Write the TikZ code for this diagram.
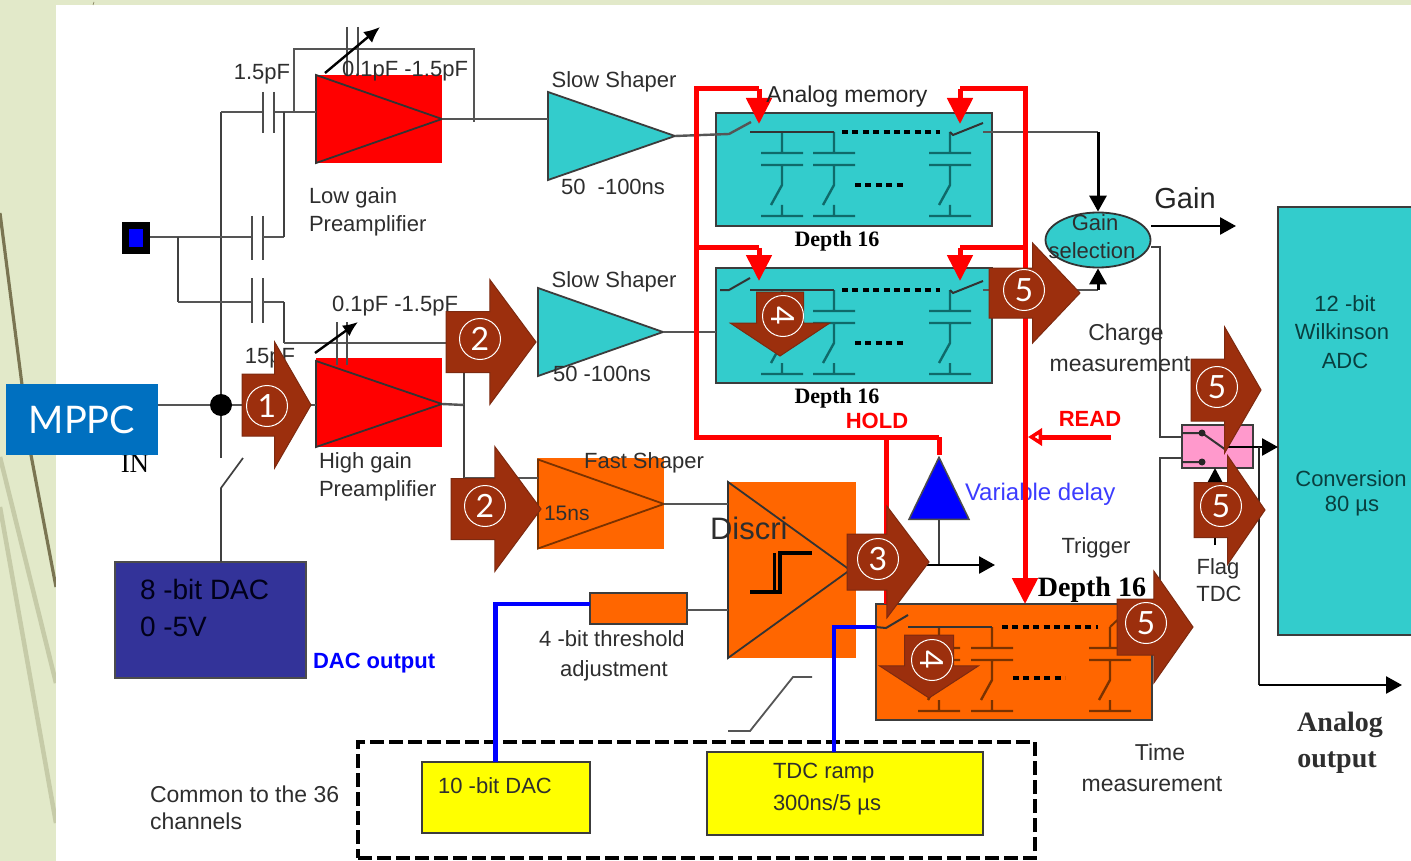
\documentclass[tikz,border=0pt]{standalone}
\usepackage{fontspec}
\setmainfont{Liberation Sans}
\newfontfamily\timesfont{Liberation Serif}
\newfontfamily\slidefont{Lato}
\usetikzlibrary{arrows.meta,positioning,shapes.geometric,shapes.arrows}
\definecolor{Sage}{HTML}{E2E9C9}
\definecolor{SagePale}{HTML}{C6CBA8}
\definecolor{Olive}{HTML}{7A7552}
\definecolor{Ink}{HTML}{2E2E2E}
\definecolor{WireGray}{HTML}{555555}
\definecolor{TealFill}{HTML}{33CCCC}
\definecolor{TealDark}{HTML}{0F6A6A}
\definecolor{Edge}{HTML}{3C3C3C}
\definecolor{OrangeFill}{HTML}{FF6600}
\definecolor{OrangeDark}{HTML}{7A3200}
\definecolor{PinkFill}{HTML}{FF99CC}
\definecolor{NavyFill}{HTML}{333399}
\definecolor{YellowFill}{HTML}{FFFF00}
\definecolor{PureRed}{HTML}{FF0000}
\definecolor{PureBlue}{HTML}{0000FF}
\definecolor{SlideBlue}{HTML}{0070C0}
\definecolor{Rust}{HTML}{9C2F0D}
\definecolor{RustDark}{HTML}{7D2A10}
\definecolor{DelayText}{HTML}{3C3CFF}
\newcommand{\fs}[1]{\fontsize{#1}{#1}\selectfont}
\newcommand{\memcell}[3]{%
\draw[draw=#3,line width=2.4pt](#1,#2)--(#1,#2+21)(#1-21,#2+21)--(#1+21,#2+21)(#1-21,#2+33)--(#1+21,#2+33)(#1,#2+33)--(#1,#2+53)--(#1-11,#2+73)(#1,#2+73)--(#1,#2+84)(#1-21,#2+84)--(#1+21,#2+84);}
\tikzset{
rectbox/.style={anchor=north west,inner sep=0pt,outer sep=0pt,align=center},
ampbox/.style={rectbox,fill=PureRed},
tealbox/.style={rectbox,fill=TealFill,draw=Edge,line width=1.8pt},
orangebox/.style={rectbox,fill=OrangeFill,draw=Edge,line width=1.5pt},
yellowbox/.style={rectbox,fill=YellowFill,draw=Edge,line width=1.8pt},
amp/.style={isosceles triangle,isosceles triangle stretches,anchor=lower side,inner sep=0pt,outer sep=0pt,draw=#1,line width=1.8pt},
wire/.style={draw=WireGray,line width=2.4pt},
thinwire/.style={draw=black!75,line width=1.7pt},
bigflow/.style={-{Triangle[length=16pt,width=17pt]},draw=black,line width=2.6pt},
hold/.style={draw=PureRed,line width=5pt},
holdflow/.style={hold,-{Triangle[length=26pt,width=25pt]}},
bluewire/.style={draw=PureBlue,line width=4.4pt},
plate/.style={draw=black!70,line width=2.2pt},
txt/.style={inner sep=0pt,outer sep=0pt,text=Ink,align=center},
stepArrow/.style={single arrow,anchor=tail,inner sep=0pt,outer sep=0pt,fill=Rust,draw=RustDark,line width=1pt,single arrow head indent=0pt,text depth=0pt},
stepNum/.style={circle,draw=white,line width=1pt,minimum size=41pt,inner sep=0pt,text=white,font=\slidefont\fs{32}}}
\begin{document}
\begin{tikzpicture}[x=1pt,y=-1pt]
\useasboundingbox (0,0) rectangle (1411,861);
\fill[Sage](0,0) rectangle (1411,861);
\draw[SagePale,line width=4.5pt](0,457)--(56,683);\draw[SagePale,line width=4.5pt](0,507)--(56,823);
\draw[Olive,line width=3.2pt](0,213)--(31,455)--(56,587);
\fill[white](56,5) rectangle (1411,861);
\draw[Olive,line width=.6pt](94,2)--(93,5);
%
\node[ampbox,minimum width=126pt,minimum height=88pt](lowbox) at (316,75){};
\node[ampbox,minimum width=126pt,minimum height=89pt](highbox) at (316,358){};
\node[rectbox,fill=OrangeFill,minimum width=126pt,minimum height=91pt](fastbox) at (538,458){};
\node[rectbox,fill=OrangeFill,minimum width=128pt,minimum height=176pt](discbox) at (728,482){};
\node[amp=black!80,minimum height=126pt,minimum width=88pt](lowamp) at (316,119){};
\node[amp=black!80,minimum height=126pt,minimum width=86pt](highamp) at (316,404){};
\node[amp=OrangeDark,minimum height=126pt,minimum width=89pt](fastamp) at (538,504){};
\node[amp=black!80,minimum height=122pt,minimum width=176pt](discamp) at (728,570){};
\node[amp=Edge,fill=TealFill,minimum height=127pt,minimum width=88pt](shapeA) at (548,136){};
\node[amp=Edge,fill=TealFill,minimum height=125pt,minimum width=88pt](shapeB) at (538,332){};
\node[tealbox,minimum width=276pt,minimum height=113pt](memA) at (716,113){};
\node[tealbox,minimum width=276pt,minimum height=115pt](memB) at (716,268){};
\node[orangebox,minimum width=276pt,minimum height=116pt](memT) at (876,604){};
\node[orangebox,minimum width=97pt,minimum height=31pt](thresh) at (590,593){};
\node[tealbox,minimum width=150pt,minimum height=428pt](adc) at (1278,207){};
\node[rectbox,fill=NavyFill,draw=black!70,line width=1.8pt,minimum width=191pt,minimum height=116pt](dac) at (115,562){};
\node[yellowbox,minimum width=168pt,minimum height=71pt](dacTen) at (422,762){};
\node[yellowbox,minimum width=276pt,minimum height=83pt](ramp) at (707,752){};
\node[rectbox,draw=black,line width=3.5pt,dash pattern=on 14pt off 5pt,minimum width=677pt,minimum height=116pt](common) at (358,742){};
\node[rectbox,fill=PinkFill,draw=Edge,line width=1.8pt,minimum width=71pt,minimum height=43pt](mux) at (1182,425){};
\node[ellipse,fill=TealFill,draw=black!80,line width=1.8pt,minimum width=105pt,minimum height=55pt,inner sep=0pt](gainsel) at (1098,240){};
\node[rectbox,fill=black,minimum width=28pt,minimum height=32pt](pad) at (122,222){};
\node[rectbox,fill=PureBlue,minimum width=14pt,minimum height=18pt] (padin) at (129,229){};
\node[isosceles triangle,shape border rotate=90,isosceles triangle stretches,anchor=lower side,fill=PureBlue,draw=black!70,line width=1.5pt,inner sep=0pt,minimum width=60pt,minimum height=62pt](delay) at (939,520){};
\coordinate(jin) at (221,405);\coordinate(jtop) at (221,112);\coordinate(jsw) at (221,458);\coordinate(jlo) at (221,488);
\coordinate(jpad) at (178,237);\coordinate(jfb) at (284,343);\coordinate(jmid) at (464,405);
%
\draw[wire](158,405)--(jin)--(highbox.west|-jin);
\draw[thinwire](jtop)--(jsw);\draw[thinwire](243,458)--(jlo)--(dac.north-|jlo);
\fill[black](jin) circle (11pt);
\draw[wire](jtop)--(263,112);\draw[wire](274,112)--(lowbox.west|-jtop);
\draw[wire](294,112)--(294,49)--(474,49)--(474,122);
\draw[wire](lowamp.apex)--(shapeA.west|-lowamp.apex);
\draw[plate](263,92)--(263,133)(274,92)--(274,133);
\draw[wire](pad.east|-jpad)--(252,237);\draw[plate](252,216)--(252,260)(263,216)--(263,260);\draw[wire](263,237)--(284,237);
\draw[thinwire](284,112)--(284,237);
\draw[thinwire](jpad)--(178,302);\draw[wire](178,302)--(252,302);\draw[plate](252,278)--(252,323)(263,278)--(263,323);\draw[wire](263,302)--(284,302);\draw[thinwire](284,302)--(jfb);
\draw[wire](jfb)--(464,343);\draw[thinwire](464,343)--(jmid);\draw[wire](highamp.apex)--(jmid);
\draw[thinwire](jmid)--(464,478);\draw[wire](464,478)--(fastbox.west|-0,478);
\draw[wire](fastamp.apex)--(discbox.west|-fastamp.apex);
\draw[wire](thresh.east|-0,610)--(discbox.west|-0,610);
\draw[wire](shapeA.apex)--(729,134)--(751,122);\draw[wire](shapeB.apex)--(memB.west|-shapeB.apex);
\draw[draw=WireGray,line width=1.8pt](812,677)--(793,677)--(750,731)--(728,731);
\draw[plate,line width=1.6pt](347,27)--(347,75)(358,27)--(358,75);\draw[-{Latex[length=16pt,width=14pt]},draw=black,line width=2.4pt](325,73)--(380,27);
\draw[plate,line width=1.6pt](337,322)--(337,365)(347,322)--(347,365);\draw[-{Latex[length=15pt,width=13pt]},draw=black,line width=2.4pt](315,353)--(358,322);
%
\foreach \x in {782,834,950}{\memcell{\x}{132}{TealDark}\memcell{\x}{290}{TealDark}}
\foreach \x in {939,992,1110}{\memcell{\x}{627}{OrangeDark}}
\foreach \y in {132,290}{\draw[draw=black!80,line width=2pt](750,\y)--(834,\y);\draw[draw=black,line width=4pt,dash pattern=on 6pt off 4.4pt](842,\y)--(940,\y);\draw[draw=black!80,line width=2pt](950,\y)--(953,\y+3)--(983,\y-9);\draw[draw=black,line width=4pt,dash pattern=on 6pt off 4.4pt](855,\y+53)--(906,\y+53);}
\draw[draw=black!80,line width=2pt](720,290)--(729,290)--(750,278);
\draw[wire](983,132)--(1098,132);\draw[bigflow,line width=3pt](1098,132)--(gainsel.north);
\draw[wire](983,290)--(1098,290);\draw[bigflow,line width=3pt](1098,290)--(gainsel.south);
\draw[bigflow](gainsel.east|-0,226)--(1236,226);
\draw[draw=black!80,line width=2pt](875,627)--(886,628)--(908,615);\draw[draw=black!80,line width=2pt](908,627)--(992,627);
\draw[draw=black,line width=4pt,dash pattern=on 6pt off 4.4pt](1002,627)--(1098,627);\draw[draw=black,line width=4pt,dash pattern=on 6pt off 4.4pt](1013,678)--(1065,678);
\draw[draw=OrangeDark,line width=2pt](1110,627)--(1126,612);
%
\draw[thinwire](gainsel.east|-0,247)--(1160,247)--(1160,437)--(mux.west|-0,437);
\draw[thinwire](mux.west|-0,458)--(1160,458)--(1160,627)--(memT.east|-0,627);
\draw[draw=black!80,line width=2pt](mux.west|-0,433)--(1202,433)--(1226,450)(mux.west|-0,462)--(1202,462);
\fill[black!85](1202,433) circle (3.5pt)(1202,462) circle (3.5pt);
\draw[bigflow](1226,447)--(adc.west|-0,447);
\draw[bigflow,-{Triangle[length=14pt,width=14pt]}](1215,545)--(mux.south-|1215,0);
\draw[draw=black!85,line width=2.2pt](1259,447)--(1259,685);\draw[bigflow](1259,685)--(1402,685);
\draw[thinwire](delay.south)--(939,565);\draw[bigflow](discamp.apex|-0,565)--(995,565);
\draw[draw=black,line width=4.5pt](750,592)--(780,592)--(780,553)--(812,553);\draw[draw=black,line width=3pt](774,592)--(774,553);
%
\node[txt,fill=none,text=DelayText,font=\fs{24},anchor=west] at (965,494){Variable delay};
\draw[hold](delay.north|-0,437)--(696,437)--(696,89)--(759,89);\draw[holdflow](759,89)--(759,124);
\draw[hold](696,248)--(759,248);\draw[holdflow](759,248)--(759,281);
\draw[hold](delay.north|-0,437)--(delay.north);\draw[hold](886,437)--(886,604);
\draw[hold](1025,580)--(1025,89)--(960,89);\draw[holdflow](960,89)--(960,124);
\draw[hold](1025,248)--(960,248);\draw[holdflow](960,248)--(960,281);
\draw[holdflow](1025,570)--(memT.north-|1025,0);
\draw[hold,-{Triangle[open,fill=white,length=14pt,width=17pt]}](1111,437)--(1028,437);
\draw[bluewire](dacTen.north-|495.5,0)--(495.5,604)--(thresh.west|-0,604);
\draw[bluewire](ramp.north-|834,0)--(834,627)--(memT.west|-0,627);
%
\node[txt,font=\timesfont\fs{27},text=black] at (135,464){IN};
\node[rectbox,fill=SlideBlue,minimum width=152pt,minimum height=71pt,text=white,font=\slidefont\fs{38}](mppc) at (6,384){MPPC};
\node[txt,font=\fs{22}] at (262,74){1.5pF};
\node[txt,font=\fs{22}] at (405,71){0.1pF  -1.5pF};
\node[txt,font=\fs{22}] at (395,306){0.1pF  -1.5pF};
\node[txt,font=\fs{22}] at (270,358){15pF};
\node[txt,font=\fs{22},align=left,anchor=north west,text depth=0pt] at (309,188){Low gain\\[6pt]Preamplifier};
\node[txt,font=\fs{22},align=left,anchor=north west] at (319,453){High gain\\[6pt]Preamplifier};
\node[txt,font=\fs{22}] at (614,82){Slow Shaper};
\node[txt,font=\fs{22}] at (613,187){50\ \ -100ns};
\node[txt,font=\fs{22}] at (614,282){Slow Shaper};
\node[txt,font=\fs{22}] at (602,374){50 -100ns};
\node[txt,font=\fs{22}] at (644,463){Fast Shaper};
\node[txt,font=\fs{21},anchor=west] at (544,513){15ns};
\node[txt,font=\fs{31},anchor=west] at (710,528){Discri};
\node[txt,font=\fs{23},text=black!85] at (847,97){Analog memory};
\node[txt,font=\timesfont\bfseries\fs{22},text=black,below=5pt of memA,xshift=-17pt]{Depth 16};
\node[txt,font=\timesfont\bfseries\fs{22},text=black,below=5pt of memB,xshift=-17pt]{Depth 16};
\node[txt,font=\timesfont\bfseries\fs{28},text=black] at (1092,590){Depth 16};
\node[txt,font=\bfseries\fs{22},text=PureRed] at (877,421){HOLD};
\node[txt,font=\bfseries\fs{22},text=PureRed] at (1090,419){READ};
\node[txt,font=\fs{29},text=black!85] at (1185,198){Gain};
\node[txt,font=\fs{22}] at (1095,223){Gain};
\node[txt,font=\fs{22}] at (1092,251){selection};
\node[txt,font=\fs{23}] at (1126,335){Charge};
\node[txt,font=\fs{23}] at (1120,364){measurement};
\node[txt,font=\fs{22}] at (1096,548){Trigger};
\node[txt,font=\fs{22}] at (1218,569){Flag};
\node[txt,font=\fs{22}] at (1219,594){TDC};
\node[txt,font=\fs{22},text=TealDark!60!black] at (1345,304){12 -bit};
\node[txt,font=\fs{22},text=TealDark!60!black] at (1342,332){Wilkinson};
\node[txt,font=\fs{22},text=TealDark!60!black] at (1345,361){ADC};
\node[txt,font=\fs{22},text=TealDark!60!black] at (1351,479){Conversion};
\node[txt,font=\fs{22},text=TealDark!60!black] at (1352,506){80 µs};
\node[txt,font=\timesfont\bfseries\fs{28}] at (1340,725){Analog};
\node[txt,font=\timesfont\bfseries\fs{28}] at (1337,763){output};
\node[txt,font=\fs{23}] at (1160,752){Time};
\node[txt,font=\fs{23}] at (1152,784){measurement};
\node[txt,font=\fs{28},text=black!90!blue,anchor=west] at (140,589){8 -bit DAC};
\node[txt,font=\fs{28},text=black!90!blue,anchor=west] at (140,627){0 -5V};
\node[txt,font=\bfseries\fs{22},text=PureBlue,anchor=west] at (313,663){DAC output};
\node[txt,font=\fs{22}] at (612,639){4 -bit threshold};
\node[txt,font=\fs{22}] at (614,671){adjustment};
\node[txt,font=\fs{23},anchor=west] at (150,794){Common to the 36};
\node[txt,font=\fs{23},anchor=west] at (150,821){channels};
\node[txt,font=\fs{22}] at (495,786){10 -bit DAC};
\node[txt,font=\fs{22},anchor=west] at (773,773){TDC ramp};
\node[txt,font=\fs{22},anchor=west] at (773,805){300ns/5 µs};
%
\node[stepArrow,text height=61pt,minimum height=69pt,minimum width=125pt,single arrow head extend=32pt,single arrow tip angle=120](stepone) at (242,405){};
\node[stepNum] at (267,406){1};
\node[stepArrow,text height=60pt,minimum height=90pt,minimum width=125pt,single arrow head extend=32pt,single arrow tip angle=107](steptwoA) at (446,342){};
\node[stepNum] at (480,339){2};
\node[stepArrow,text height=60pt,minimum height=90pt,minimum width=125pt,single arrow head extend=32pt,single arrow tip angle=107](steptwoB) at (451,509){};
\node[stepNum] at (485,506){2};
\node[stepArrow,text height=55pt,minimum height=82pt,minimum width=111pt,single arrow head extend=28pt,single arrow tip angle=106](stepthree) at (847,562){};
\node[stepNum] at (878,559){3};
\node[stepArrow,text height=46pt,rotate=-90,minimum height=64pt,minimum width=99pt,single arrow head extend=26pt,single arrow tip angle=113](stepfourA) at (780,292){};
\node[stepNum,rotate=-90] at (783,316){4};
\node[stepArrow,text height=48pt,rotate=-90,minimum height=63pt,minimum width=99pt,single arrow head extend=25pt,single arrow tip angle=114](stepfourB) at (929,635){};
\node[stepNum,rotate=-90] at (932,660){4};
\node[stepArrow,text height=49pt,minimum height=91pt,minimum width=99pt,single arrow head extend=25pt,single arrow tip angle=93](stepfiveA) at (989,293){};
\node[stepNum] at (1024,290){5};
\node[stepArrow,text height=61pt,minimum height=70pt,minimum width=126pt,single arrow head extend=32pt,single arrow tip angle=120](stepfiveB) at (1191,390){};
\node[stepNum] at (1217,387){5};
\node[stepArrow,text height=54pt,minimum height=71pt,minimum width=109pt,single arrow head extend=27pt,single arrow tip angle=111](stepfiveC) at (1194,510){};
\node[stepNum] at (1221,506){5};
\node[stepArrow,text height=55pt,minimum height=76pt,minimum width=111pt,single arrow head extend=28pt,single arrow tip angle=110](stepfiveD) at (1117,627){};
\node[stepNum] at (1146,623){5};
\end{tikzpicture}
\end{document}
